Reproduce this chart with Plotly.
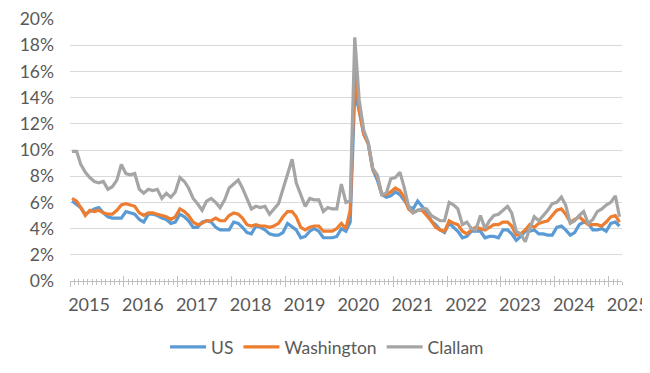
import pandas as pd
import plotly.graph_objects as go

# Monthly unemployment rates (%), Jan 2015 - Mar 2025
us = [
    6.1, 5.8, 5.6, 5.1, 5.3, 5.5, 5.6, 5.2, 4.9, 4.8, 4.8, 4.8,
    5.3, 5.2, 5.1, 4.7, 4.5, 5.1, 5.1, 5.0, 4.8, 4.7, 4.4, 4.5,
    5.1, 4.9, 4.6, 4.1, 4.1, 4.5, 4.6, 4.5, 4.1, 3.9, 3.9, 3.9,
    4.5, 4.4, 4.1, 3.7, 3.6, 4.2, 4.1, 3.9, 3.6, 3.5, 3.5, 3.7,
    4.4, 4.1, 3.9, 3.3, 3.4, 3.8, 4.0, 3.8, 3.3, 3.3, 3.3, 3.4,
    4.0, 3.8, 4.5, 14.4, 13.0, 11.2, 10.5, 8.5, 7.7, 6.6, 6.4, 6.5,
    6.8, 6.6, 6.2, 5.7, 5.5, 6.1, 5.7, 5.3, 4.6, 4.3, 3.9, 3.7,
    4.4, 4.1, 3.8, 3.3, 3.4, 3.8, 3.8, 3.8, 3.3, 3.4, 3.4, 3.3,
    3.9, 3.9, 3.6, 3.1, 3.4, 3.8, 3.8, 3.9, 3.6, 3.6, 3.5, 3.5,
    4.1, 4.2, 3.9, 3.5, 3.7, 4.3, 4.5, 4.4, 3.9, 3.9, 4.0, 3.8,
    4.4, 4.5, 4.2,
]
washington = [
    6.3, 6.1, 5.6, 5.0, 5.4, 5.3, 5.4, 5.2, 5.1, 5.1, 5.4, 5.8,
    5.9, 5.8, 5.7, 5.2, 5.0, 5.2, 5.2, 5.1, 5.0, 4.9, 4.7, 4.9,
    5.5, 5.3, 5.0, 4.5, 4.3, 4.4, 4.6, 4.6, 4.8, 4.6, 4.6, 5.0,
    5.2, 5.1, 4.8, 4.3, 4.2, 4.3, 4.2, 4.2, 4.1, 4.2, 4.4, 4.9,
    5.3, 5.3, 4.9, 4.1, 3.9, 4.1, 4.2, 4.2, 3.8, 3.8, 3.8, 4.0,
    4.4, 4.0, 5.4, 16.1, 13.0, 11.2, 10.5, 8.5, 8.0, 6.6, 6.6, 6.8,
    7.1, 6.9, 6.4, 5.5, 5.2, 5.4, 5.4, 5.0, 4.6, 4.1, 3.9, 3.8,
    4.6, 4.4, 4.3, 3.8, 3.6, 3.9, 4.1, 4.0, 3.9, 4.1, 4.3, 4.3,
    4.5, 4.5, 4.2, 3.5, 3.6, 3.9, 4.3, 4.1, 4.4, 4.5, 4.6, 5.0,
    5.4, 5.5, 5.1, 4.5, 4.7, 4.9, 4.6, 4.3, 4.3, 4.3, 4.2, 4.5,
    4.9, 5.0, 4.5,
]
clallam = [
    9.9, 9.9, 8.9, 8.3, 7.9, 7.6, 7.5, 7.6, 7.0, 7.2, 7.7, 8.9,
    8.2, 8.1, 8.2, 7.0, 6.7, 7.0, 6.9, 7.0, 6.3, 6.7, 6.4, 6.8,
    7.9, 7.6, 7.1, 6.3, 5.9, 5.4, 6.1, 6.3, 6.0, 5.6, 6.2, 7.1,
    7.4, 7.7, 7.1, 6.3, 5.5, 5.7, 5.6, 5.7, 5.1, 5.5, 5.9, 7.0,
    8.1, 9.3, 7.5, 6.6, 5.7, 6.3, 6.2, 6.2, 5.3, 5.6, 5.5, 5.5,
    7.4, 6.0, 6.1, 18.6, 13.8, 11.5, 10.6, 8.6, 8.1, 6.6, 6.7, 7.8,
    7.9, 8.3, 7.2, 5.7, 5.2, 5.4, 5.5, 5.5, 5.0, 4.8, 4.6, 4.6,
    6.0, 5.8, 5.5, 4.3, 4.5, 4.0, 3.9, 5.0, 4.0, 4.6, 5.0, 5.1,
    5.4, 5.7, 5.2, 3.8, 3.6, 3.0, 4.0, 4.9, 4.6, 5.0, 5.4, 5.9,
    6.0, 6.4, 5.8, 4.4, 4.6, 5.0, 5.3, 4.4, 4.7, 5.3, 5.5, 5.8,
    6.0, 6.5, 4.9,
]

series_names = ["US", "Washington", "Clallam"]
series_colors = ["#5B9BD5", "#ED7D31", "#A5A5A5"]
series_xaxes = ["x", "x", "x2"]

months = pd.date_range("2015-01-01", periods=len(us), freq="MS") + pd.Timedelta(days=14)
x_range = ["2015-01-01", "2025-04-01"]

FONT = "Lato, 'Open Sans', sans-serif"
TXT = "#595959"
AXIS_COL = "#BFBFBF"

fig = go.Figure()
for name, vals, col, xa in zip(series_names, [us, washington, clallam],
                               series_colors, series_xaxes):
    fig.add_trace(go.Scatter(
        x=months, y=[v / 100 for v in vals], mode="lines", name=name,
        xaxis=xa, yaxis="y",
        line=dict(color=col, width=3.2, shape="linear"),
    ))

# the page body adds an 8px offset, so the figure is 642x365
fig.update_layout(
    width=642, height=365,
    margin=dict(l=62, r=28, t=11, b=92, autoexpand=False),
    paper_bgcolor="white", plot_bgcolor="white",
    font=dict(family=FONT, size=16, color=TXT),
    showlegend=True,
    legend=dict(
        orientation="h", xref="container", yref="container",
        x=0.497, xanchor="center", y=0.071, yanchor="middle",
        font=dict(family=FONT, size=17.5, color=TXT),
        itemwidth=36, tracegroupgap=0,
    ),
    xaxis=dict(
        range=x_range, automargin=False,
        tick0="2015-01-01", dtick="M12", tickformat="%Y",
        ticks="outside", ticklen=5, tickcolor=AXIS_COL, tickwidth=1,
        showline=True, linecolor=AXIS_COL, linewidth=1,
        showgrid=False, zeroline=False,
        ticklabelshift=19, ticklabelstandoff=2,
        tickfont=dict(family=FONT, size=18, color=TXT),
        minor=dict(dtick="M1", tick0="2015-01-01", ticks="outside",
                   ticklen=3, tickcolor=AXIS_COL, showgrid=False),
    ),
    # overlay axis gives the inner half of the crossing tick marks
    xaxis2=dict(
        range=x_range, overlaying="x", anchor="y", side="bottom",
        automargin=False, showticklabels=False,
        tick0="2015-01-01", dtick="M12",
        ticks="inside", ticklen=5, tickcolor=AXIS_COL, tickwidth=1,
        showline=False, showgrid=False, zeroline=False,
        minor=dict(dtick="M1", tick0="2015-01-01", ticks="inside",
                   ticklen=2, tickcolor=AXIS_COL, showgrid=False),
    ),
    yaxis=dict(
        range=[0, 0.2], dtick=0.02, tickformat=".0%", automargin=False,
        showgrid=True, gridcolor="#D9D9D9", gridwidth=1,
        zeroline=False, showline=False, ticks="",
        ticklabelstandoff=15,
        tickfont=dict(family=FONT, size=17.5, color=TXT),
    ),
)

fig.write_html("out.html")
